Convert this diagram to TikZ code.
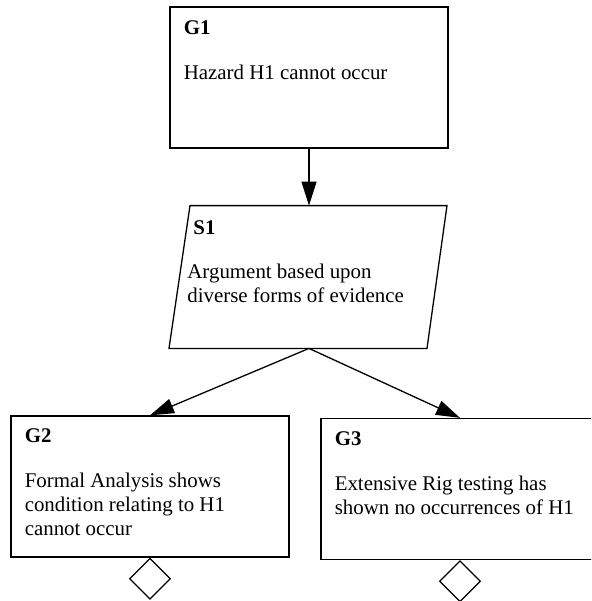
\documentclass[tikz,border=0pt]{standalone}
\usepackage{fontspec}
\setmainfont{Liberation Serif}
\usetikzlibrary{arrows.meta,shapes.geometric}
\newcommand{\stacklines}[1]{\vtop{\halign{##\hfil\cr#1\crcr}}}
\begin{document}
\begin{tikzpicture}[x=0.5pt,y=-0.5pt,
  every node/.style={font=\fontsize{10.45}{12}\selectfont},
  goalbox/.style={draw, line width=0.65pt, rectangle, minimum width=139pt, minimum height=70.5pt, inner sep=0pt},
  stratframe/.style={rectangle, minimum width=139pt, minimum height=71pt, inner sep=0pt},
  outline/.style={line width=0.65pt, line join=miter},
  ctxmark/.style={draw, line width=0.65pt, diamond, minimum width=20.5pt, minimum height=20.5pt, inner sep=0pt},
  idlabel/.style={anchor=base west, inner sep=0pt, font=\fontsize{10.45}{12}\selectfont\bfseries},
  bodytext/.style={anchor=base west, inner sep=0pt},
  link/.style={line width=0.65pt, -{Triangle[length=12pt,width=7.5pt]}}]
\useasboundingbox (0,0) rectangle (591,601);
\clip (0,0) rectangle (591,601);

% goal boxes
\node[goalbox] (G1) at (309,77.5) {};
\node[goalbox] (G2) at (150,486.5) {};
\node[goalbox] (G3) at (460,489) {};

% strategy: slanted parallelogram around an anchor frame
\node[stratframe] (S1) at (309,277) {};
\draw[outline] ([xshift=-59.5pt]S1.north) -- ([xshift=69pt]S1.north)
  -- ([xshift=59pt]S1.south) -- ([xshift=-70pt]S1.south) -- cycle;

% context markers under the lower goals
\node[ctxmark, anchor=north] (G2c) at (G2.south) {};
\node[ctxmark, anchor=north] (G3c) at (G3.south) {};

% labels
\node[idlabel] (G1id) at ([shift={(14,28)}]G1.north west) {G1};
\node[bodytext] (G1tx) at ([shift={(14,73)}]G1.north west) {Hazard H1 cannot occur};
\node[idlabel] (S1id) at ([shift={(-116,29)}]S1.north) {S1};
\node[bodytext] (S1tx) at ([shift={(-122,73)}]S1.north) {\stacklines{Argument based upon\cr diverse forms of evidence}};
\node[idlabel] (G2id) at ([shift={(14,27)}]G2.north west) {G2};
\node[bodytext] (G2tx) at ([shift={(14,72)}]G2.north west) {\stacklines{Formal Analysis shows\cr condition relating to H1\cr cannot occur}};
\node[idlabel] (G3id) at ([shift={(14,28)}]G3.north west) {G3};
\node[bodytext] (G3tx) at ([shift={(14,73)}]G3.north west) {\stacklines{Extensive Rig testing has\cr shown no occurrences of H1}};

% supported-by links
\draw[link] (G1.south) -- (S1.north);
\draw[link] (S1.south) -- (G2.north);
\draw[link] (S1.south) -- (G3.north);
\end{tikzpicture}
\end{document}
